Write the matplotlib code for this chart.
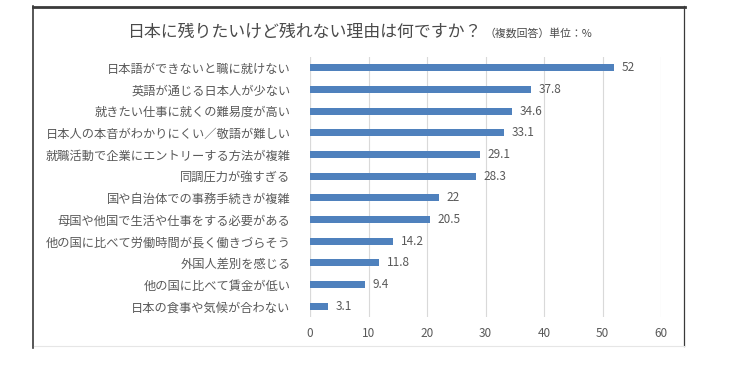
import matplotlib.pyplot as plt
from matplotlib.lines import Line2D

plt.rcParams['font.family'] = ['Noto Sans CJK JP', 'DejaVu Sans']

reasons = [
    "日本語ができないと職に就けない",
    "英語が通じる日本人が少ない",
    "就きたい仕事に就くの難易度が高い",
    "日本人の本音がわかりにくい／敬語が難しい",
    "就職活動で企業にエントリーする方法が複雑",
    "同調圧力が強すぎる",
    "国や自治体での事務手続きが複雑",
    "母国や他国で生活や仕事をする必要がある",
    "他の国に比べて労働時間が長く働きづらそう",
    "外国人差別を感じる",
    "他の国に比べて賃金が低い",
    "日本の食事や気候が合わない",
]
percent = [52, 37.8, 34.6, 33.1, 29.1, 28.3, 22, 20.5, 14.2, 11.8, 9.4, 3.1]
value_labels = ["52", "37.8", "34.6", "33.1", "29.1", "28.3", "22", "20.5", "14.2", "11.8", "9.4", "3.1"]
xticks = [0, 10, 20, 30, 40, 50, 60]

W, H = 747, 369
fig = plt.figure(figsize=(W / 100, H / 100), dpi=100)
ax = fig.add_axes([310 / W, 1 - 317 / H, 351 / W, (317 - 57) / H])

bar_color = "#4f81bd"
text_color = "#595959"

y = list(range(len(reasons)))
ax.barh(y, percent, height=0.33, color=bar_color, zorder=3)
for yi, v, lab in zip(y, percent, value_labels):
    ax.text(v + 1.3, yi, lab, va="center", ha="left", fontsize=8.5, color=text_color)

ax.set_ylim(len(reasons) - 0.5, -0.5)
ax.set_xlim(0, 60)
ax.set_yticks(y)
ax.set_yticklabels(reasons, fontsize=8.8, color=text_color)
ax.set_xticks(xticks)
ax.set_xticklabels([str(t) for t in xticks], fontsize=8.5, color=text_color)
ax.tick_params(length=0)
ax.tick_params(axis="y", pad=14)
ax.tick_params(axis="x", pad=7)
ax.grid(axis="x", color="#d9d9d9", linewidth=0.8, zorder=0)
ax.axvline(0, color="#d9d9d9", linewidth=0.8, zorder=1)
for s in ax.spines.values():
    s.set_visible(False)

# title in two parts
fig.text(481 / W, 1 - 32 / H, "日本に残りたいけど残れない理由は何ですか？", ha="right", va="center",
         fontsize=12.2, color="#4a4a4a")
fig.text(485 / W, 1 - 33 / H, "（複数回答）単位：%", ha="left", va="center",
         fontsize=7.8, color="#4a4a4a")

# frame of the screenshot
def fx(px):
    return px / W

def fy(py):
    return 1 - py / H

fig.add_artist(Line2D([fx(33), fx(685)], [fy(7), fy(7)], color="#3a3a3a", linewidth=2))
fig.add_artist(Line2D([fx(33), fx(33)], [fy(6), fy(348)], color="#3a3a3a", linewidth=1.2))
fig.add_artist(Line2D([fx(684), fx(684)], [fy(6), fy(346)], color="#3a3a3a", linewidth=0.9))
fig.add_artist(Line2D([fx(34), fx(684)], [fy(346), fy(346)], color="#e6e6e6", linewidth=0.8))

fig.savefig("out.png", dpi=100)
